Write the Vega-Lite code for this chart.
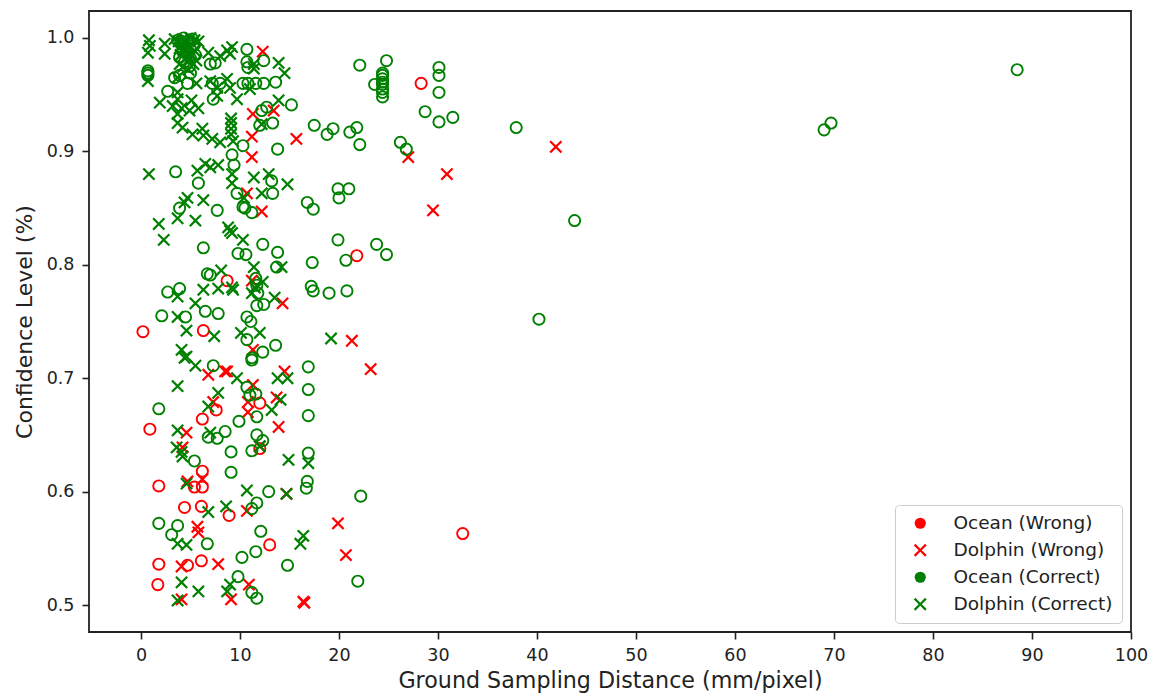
{"$schema":"https://vega.github.io/schema/vega-lite/v6.json","width":1042,"height":621,"autosize":{"type":"none"},"padding":{"left":89,"top":11,"right":22,"bottom":63},"background":"white","config":{"font":"DejaVu Sans","view":{"stroke":"#222","strokeWidth":1.8}},"data":{"values":[
{"gsd":28.3,"conf":0.96,"group":"Ocean (Wrong)"},{"gsd":0.2,"conf":0.741,"group":"Ocean (Wrong)"},{"gsd":0.9,"conf":0.655,"group":"Ocean (Wrong)"},{"gsd":1.8,"conf":0.605,"group":"Ocean (Wrong)"},{"gsd":1.8,"conf":0.536,"group":"Ocean (Wrong)"},{"gsd":1.7,"conf":0.518,"group":"Ocean (Wrong)"},{"gsd":6.2,"conf":0.664,"group":"Ocean (Wrong)"},{"gsd":7.6,"conf":0.672,"group":"Ocean (Wrong)"},{"gsd":6.3,"conf":0.742,"group":"Ocean (Wrong)"},{"gsd":8.7,"conf":0.786,"group":"Ocean (Wrong)"},{"gsd":12,"conf":0.678,"group":"Ocean (Wrong)"},{"gsd":12,"conf":0.638,"group":"Ocean (Wrong)"},{"gsd":6.2,"conf":0.618,"group":"Ocean (Wrong)"},{"gsd":6.2,"conf":0.604,"group":"Ocean (Wrong)"},{"gsd":5.4,"conf":0.604,"group":"Ocean (Wrong)"},{"gsd":4.4,"conf":0.586,"group":"Ocean (Wrong)"},{"gsd":6.1,"conf":0.587,"group":"Ocean (Wrong)"},{"gsd":8.9,"conf":0.579,"group":"Ocean (Wrong)"},{"gsd":13,"conf":0.553,"group":"Ocean (Wrong)"},{"gsd":6.1,"conf":0.539,"group":"Ocean (Wrong)"},{"gsd":4.7,"conf":0.535,"group":"Ocean (Wrong)"},{"gsd":21.8,"conf":0.808,"group":"Ocean (Wrong)"},{"gsd":32.5,"conf":0.563,"group":"Ocean (Wrong)"},
{"gsd":12.3,"conf":0.988,"group":"Dolphin (Wrong)"},{"gsd":11.3,"conf":0.933,"group":"Dolphin (Wrong)"},{"gsd":13.4,"conf":0.936,"group":"Dolphin (Wrong)"},{"gsd":11.2,"conf":0.913,"group":"Dolphin (Wrong)"},{"gsd":15.7,"conf":0.911,"group":"Dolphin (Wrong)"},{"gsd":11.2,"conf":0.895,"group":"Dolphin (Wrong)"},{"gsd":27,"conf":0.895,"group":"Dolphin (Wrong)"},{"gsd":41.9,"conf":0.904,"group":"Dolphin (Wrong)"},{"gsd":30.9,"conf":0.88,"group":"Dolphin (Wrong)"},{"gsd":29.5,"conf":0.848,"group":"Dolphin (Wrong)"},{"gsd":10.7,"conf":0.863,"group":"Dolphin (Wrong)"},{"gsd":12.2,"conf":0.847,"group":"Dolphin (Wrong)"},{"gsd":11.2,"conf":0.786,"group":"Dolphin (Wrong)"},{"gsd":14.3,"conf":0.766,"group":"Dolphin (Wrong)"},{"gsd":11.3,"conf":0.725,"group":"Dolphin (Wrong)"},{"gsd":21.3,"conf":0.733,"group":"Dolphin (Wrong)"},{"gsd":23.2,"conf":0.708,"group":"Dolphin (Wrong)"},{"gsd":6.8,"conf":0.703,"group":"Dolphin (Wrong)"},{"gsd":8.5,"conf":0.706,"group":"Dolphin (Wrong)"},{"gsd":8.7,"conf":0.706,"group":"Dolphin (Wrong)"},{"gsd":14.5,"conf":0.706,"group":"Dolphin (Wrong)"},{"gsd":11.3,"conf":0.694,"group":"Dolphin (Wrong)"},{"gsd":13.7,"conf":0.683,"group":"Dolphin (Wrong)"},{"gsd":10.8,"conf":0.679,"group":"Dolphin (Wrong)"},{"gsd":7.3,"conf":0.679,"group":"Dolphin (Wrong)"},{"gsd":10.8,"conf":0.67,"group":"Dolphin (Wrong)"},{"gsd":13.9,"conf":0.657,"group":"Dolphin (Wrong)"},{"gsd":4.6,"conf":0.652,"group":"Dolphin (Wrong)"},{"gsd":4.2,"conf":0.639,"group":"Dolphin (Wrong)"},{"gsd":12,"conf":0.64,"group":"Dolphin (Wrong)"},{"gsd":6.2,"conf":0.611,"group":"Dolphin (Wrong)"},{"gsd":4.7,"conf":0.609,"group":"Dolphin (Wrong)"},{"gsd":14.7,"conf":0.598,"group":"Dolphin (Wrong)"},{"gsd":10.7,"conf":0.583,"group":"Dolphin (Wrong)"},{"gsd":5.7,"conf":0.569,"group":"Dolphin (Wrong)"},{"gsd":5.8,"conf":0.564,"group":"Dolphin (Wrong)"},{"gsd":19.9,"conf":0.572,"group":"Dolphin (Wrong)"},{"gsd":20.7,"conf":0.544,"group":"Dolphin (Wrong)"},{"gsd":4.1,"conf":0.534,"group":"Dolphin (Wrong)"},{"gsd":7.8,"conf":0.536,"group":"Dolphin (Wrong)"},{"gsd":10.9,"conf":0.518,"group":"Dolphin (Wrong)"},{"gsd":4.1,"conf":0.505,"group":"Dolphin (Wrong)"},{"gsd":9.1,"conf":0.505,"group":"Dolphin (Wrong)"},{"gsd":16.4,"conf":0.503,"group":"Dolphin (Wrong)"},{"gsd":16.5,"conf":0.502,"group":"Dolphin (Wrong)"},
{"gsd":88.5,"conf":0.972,"group":"Ocean (Correct)"},{"gsd":69,"conf":0.919,"group":"Ocean (Correct)"},{"gsd":69.7,"conf":0.925,"group":"Ocean (Correct)"},{"gsd":43.8,"conf":0.839,"group":"Ocean (Correct)"},{"gsd":40.2,"conf":0.752,"group":"Ocean (Correct)"},{"gsd":37.9,"conf":0.921,"group":"Ocean (Correct)"},{"gsd":22.1,"conf":0.976,"group":"Ocean (Correct)"},{"gsd":24.8,"conf":0.98,"group":"Ocean (Correct)"},{"gsd":23.6,"conf":0.959,"group":"Ocean (Correct)"},{"gsd":24.4,"conf":0.969,"group":"Ocean (Correct)"},{"gsd":24.4,"conf":0.967,"group":"Ocean (Correct)"},{"gsd":24.4,"conf":0.964,"group":"Ocean (Correct)"},{"gsd":24.4,"conf":0.961,"group":"Ocean (Correct)"},{"gsd":24.4,"conf":0.959,"group":"Ocean (Correct)"},{"gsd":24.4,"conf":0.955,"group":"Ocean (Correct)"},{"gsd":24.4,"conf":0.952,"group":"Ocean (Correct)"},{"gsd":24.4,"conf":0.948,"group":"Ocean (Correct)"},{"gsd":30.1,"conf":0.974,"group":"Ocean (Correct)"},{"gsd":30.1,"conf":0.967,"group":"Ocean (Correct)"},{"gsd":30.1,"conf":0.952,"group":"Ocean (Correct)"},{"gsd":28.7,"conf":0.935,"group":"Ocean (Correct)"},{"gsd":31.5,"conf":0.93,"group":"Ocean (Correct)"},{"gsd":30.1,"conf":0.926,"group":"Ocean (Correct)"},{"gsd":26.2,"conf":0.908,"group":"Ocean (Correct)"},{"gsd":26.8,"conf":0.902,"group":"Ocean (Correct)"},{"gsd":17.5,"conf":0.923,"group":"Ocean (Correct)"},{"gsd":19.4,"conf":0.92,"group":"Ocean (Correct)"},{"gsd":18.8,"conf":0.915,"group":"Ocean (Correct)"},{"gsd":21.1,"conf":0.917,"group":"Ocean (Correct)"},{"gsd":21.8,"conf":0.921,"group":"Ocean (Correct)"},{"gsd":22.1,"conf":0.906,"group":"Ocean (Correct)"},{"gsd":13.8,"conf":0.902,"group":"Ocean (Correct)"},{"gsd":15.2,"conf":0.941,"group":"Ocean (Correct)"},{"gsd":19.9,"conf":0.867,"group":"Ocean (Correct)"},{"gsd":21,"conf":0.867,"group":"Ocean (Correct)"},{"gsd":20,"conf":0.859,"group":"Ocean (Correct)"},{"gsd":16.8,"conf":0.855,"group":"Ocean (Correct)"},{"gsd":17.4,"conf":0.849,"group":"Ocean (Correct)"},{"gsd":19.9,"conf":0.822,"group":"Ocean (Correct)"},{"gsd":23.8,"conf":0.818,"group":"Ocean (Correct)"},{"gsd":24.8,"conf":0.809,"group":"Ocean (Correct)"},{"gsd":20.7,"conf":0.804,"group":"Ocean (Correct)"},{"gsd":17.3,"conf":0.802,"group":"Ocean (Correct)"},{"gsd":13.8,"conf":0.811,"group":"Ocean (Correct)"},{"gsd":12.3,"conf":0.818,"group":"Ocean (Correct)"},{"gsd":17.2,"conf":0.781,"group":"Ocean (Correct)"},{"gsd":17.4,"conf":0.777,"group":"Ocean (Correct)"},{"gsd":19,"conf":0.775,"group":"Ocean (Correct)"},{"gsd":20.8,"conf":0.777,"group":"Ocean (Correct)"},{"gsd":22.2,"conf":0.596,"group":"Ocean (Correct)"},{"gsd":21.9,"conf":0.521,"group":"Ocean (Correct)"},{"gsd":16.9,"conf":0.71,"group":"Ocean (Correct)"},{"gsd":16.9,"conf":0.69,"group":"Ocean (Correct)"},{"gsd":16.9,"conf":0.667,"group":"Ocean (Correct)"},{"gsd":16.9,"conf":0.634,"group":"Ocean (Correct)"},{"gsd":16.8,"conf":0.609,"group":"Ocean (Correct)"},{"gsd":16.7,"conf":0.603,"group":"Ocean (Correct)"},{"gsd":13.6,"conf":0.729,"group":"Ocean (Correct)"},{"gsd":12.3,"conf":0.723,"group":"Ocean (Correct)"},{"gsd":14.8,"conf":0.535,"group":"Ocean (Correct)"},{"gsd":6.3,"conf":0.815,"group":"Ocean (Correct)"},{"gsd":9.8,"conf":0.81,"group":"Ocean (Correct)"},{"gsd":10.6,"conf":0.809,"group":"Ocean (Correct)"},{"gsd":13.7,"conf":0.798,"group":"Ocean (Correct)"},{"gsd":6.7,"conf":0.792,"group":"Ocean (Correct)"},{"gsd":7,"conf":0.791,"group":"Ocean (Correct)"},{"gsd":11.6,"conf":0.788,"group":"Ocean (Correct)"},{"gsd":11.7,"conf":0.782,"group":"Ocean (Correct)"},{"gsd":11.8,"conf":0.775,"group":"Ocean (Correct)"},{"gsd":11.7,"conf":0.764,"group":"Ocean (Correct)"},{"gsd":12.4,"conf":0.765,"group":"Ocean (Correct)"},{"gsd":2.7,"conf":0.776,"group":"Ocean (Correct)"},{"gsd":3.9,"conf":0.779,"group":"Ocean (Correct)"},{"gsd":2.1,"conf":0.755,"group":"Ocean (Correct)"},{"gsd":4.5,"conf":0.754,"group":"Ocean (Correct)"},{"gsd":6.5,"conf":0.759,"group":"Ocean (Correct)"},{"gsd":7.8,"conf":0.757,"group":"Ocean (Correct)"},{"gsd":10.7,"conf":0.754,"group":"Ocean (Correct)"},{"gsd":11.1,"conf":0.75,"group":"Ocean (Correct)"},{"gsd":10.7,"conf":0.734,"group":"Ocean (Correct)"},{"gsd":11.2,"conf":0.716,"group":"Ocean (Correct)"},{"gsd":11.2,"conf":0.718,"group":"Ocean (Correct)"},{"gsd":7.3,"conf":0.711,"group":"Ocean (Correct)"},{"gsd":10.7,"conf":0.692,"group":"Ocean (Correct)"},{"gsd":11,"conf":0.685,"group":"Ocean (Correct)"},{"gsd":11.6,"conf":0.686,"group":"Ocean (Correct)"},{"gsd":1.8,"conf":0.673,"group":"Ocean (Correct)"},{"gsd":9.9,"conf":0.662,"group":"Ocean (Correct)"},{"gsd":11.7,"conf":0.666,"group":"Ocean (Correct)"},{"gsd":8.5,"conf":0.653,"group":"Ocean (Correct)"},{"gsd":6.8,"conf":0.648,"group":"Ocean (Correct)"},{"gsd":7.7,"conf":0.647,"group":"Ocean (Correct)"},{"gsd":11.7,"conf":0.65,"group":"Ocean (Correct)"},{"gsd":12.3,"conf":0.645,"group":"Ocean (Correct)"},{"gsd":11.2,"conf":0.636,"group":"Ocean (Correct)"},{"gsd":9.1,"conf":0.635,"group":"Ocean (Correct)"},{"gsd":5.4,"conf":0.627,"group":"Ocean (Correct)"},{"gsd":9.1,"conf":0.617,"group":"Ocean (Correct)"},{"gsd":12.9,"conf":0.6,"group":"Ocean (Correct)"},{"gsd":11.7,"conf":0.59,"group":"Ocean (Correct)"},{"gsd":11.2,"conf":0.585,"group":"Ocean (Correct)"},{"gsd":1.8,"conf":0.572,"group":"Ocean (Correct)"},{"gsd":3.7,"conf":0.57,"group":"Ocean (Correct)"},{"gsd":3.1,"conf":0.562,"group":"Ocean (Correct)"},{"gsd":6.7,"conf":0.554,"group":"Ocean (Correct)"},{"gsd":12.1,"conf":0.565,"group":"Ocean (Correct)"},{"gsd":11.6,"conf":0.547,"group":"Ocean (Correct)"},{"gsd":10.2,"conf":0.542,"group":"Ocean (Correct)"},{"gsd":9.8,"conf":0.525,"group":"Ocean (Correct)"},{"gsd":11.2,"conf":0.511,"group":"Ocean (Correct)"},{"gsd":11.7,"conf":0.506,"group":"Ocean (Correct)"},{"gsd":10.7,"conf":0.99,"group":"Ocean (Correct)"},{"gsd":12.4,"conf":0.98,"group":"Ocean (Correct)"},{"gsd":7,"conf":0.977,"group":"Ocean (Correct)"},{"gsd":7.5,"conf":0.978,"group":"Ocean (Correct)"},{"gsd":10.7,"conf":0.979,"group":"Ocean (Correct)"},{"gsd":10.8,"conf":0.974,"group":"Ocean (Correct)"},{"gsd":0.7,"conf":0.971,"group":"Ocean (Correct)"},{"gsd":0.7,"conf":0.969,"group":"Ocean (Correct)"},{"gsd":0.7,"conf":0.967,"group":"Ocean (Correct)"},{"gsd":3.4,"conf":0.965,"group":"Ocean (Correct)"},{"gsd":3.9,"conf":0.967,"group":"Ocean (Correct)"},{"gsd":5,"conf":0.969,"group":"Ocean (Correct)"},{"gsd":12.4,"conf":0.96,"group":"Ocean (Correct)"},{"gsd":13.6,"conf":0.961,"group":"Ocean (Correct)"},{"gsd":10.3,"conf":0.96,"group":"Ocean (Correct)"},{"gsd":10.8,"conf":0.96,"group":"Ocean (Correct)"},{"gsd":11.6,"conf":0.96,"group":"Ocean (Correct)"},{"gsd":7.2,"conf":0.96,"group":"Ocean (Correct)"},{"gsd":8,"conf":0.96,"group":"Ocean (Correct)"},{"gsd":2.7,"conf":0.953,"group":"Ocean (Correct)"},{"gsd":7.3,"conf":0.946,"group":"Ocean (Correct)"},{"gsd":4.7,"conf":0.96,"group":"Ocean (Correct)"},{"gsd":12.7,"conf":0.939,"group":"Ocean (Correct)"},{"gsd":12.2,"conf":0.936,"group":"Ocean (Correct)"},{"gsd":13.3,"conf":0.925,"group":"Ocean (Correct)"},{"gsd":12,"conf":0.923,"group":"Ocean (Correct)"},{"gsd":10.3,"conf":0.905,"group":"Ocean (Correct)"},{"gsd":9.2,"conf":0.897,"group":"Ocean (Correct)"},{"gsd":9.4,"conf":0.888,"group":"Ocean (Correct)"},{"gsd":3.5,"conf":0.882,"group":"Ocean (Correct)"},{"gsd":5.8,"conf":0.872,"group":"Ocean (Correct)"},{"gsd":13.2,"conf":0.874,"group":"Ocean (Correct)"},{"gsd":13.3,"conf":0.863,"group":"Ocean (Correct)"},{"gsd":9.7,"conf":0.863,"group":"Ocean (Correct)"},{"gsd":10.3,"conf":0.851,"group":"Ocean (Correct)"},{"gsd":10.5,"conf":0.85,"group":"Ocean (Correct)"},{"gsd":11.2,"conf":0.846,"group":"Ocean (Correct)"},{"gsd":7.7,"conf":0.848,"group":"Ocean (Correct)"},{"gsd":3.9,"conf":0.85,"group":"Ocean (Correct)"},{"gsd":3.7,"conf":0.998,"group":"Ocean (Correct)"},{"gsd":4,"conf":0.995,"group":"Ocean (Correct)"},{"gsd":4.3,"conf":1,"group":"Ocean (Correct)"},{"gsd":4.5,"conf":0.992,"group":"Ocean (Correct)"},{"gsd":4.8,"conf":0.997,"group":"Ocean (Correct)"},{"gsd":5,"conf":0.99,"group":"Ocean (Correct)"},{"gsd":5.2,"conf":0.999,"group":"Ocean (Correct)"},{"gsd":5.4,"conf":0.994,"group":"Ocean (Correct)"},{"gsd":4.2,"conf":0.988,"group":"Ocean (Correct)"},{"gsd":4.7,"conf":0.986,"group":"Ocean (Correct)"},{"gsd":5,"conf":0.982,"group":"Ocean (Correct)"},{"gsd":5.5,"conf":0.985,"group":"Ocean (Correct)"},{"gsd":4.4,"conf":0.979,"group":"Ocean (Correct)"},{"gsd":4.9,"conf":0.975,"group":"Ocean (Correct)"},{"gsd":3.9,"conf":0.983,"group":"Ocean (Correct)"},
{"gsd":0.8,"conf":0.998,"group":"Dolphin (Correct)"},{"gsd":0.7,"conf":0.987,"group":"Dolphin (Correct)"},{"gsd":2.4,"conf":0.995,"group":"Dolphin (Correct)"},{"gsd":2.4,"conf":0.986,"group":"Dolphin (Correct)"},{"gsd":0.9,"conf":0.993,"group":"Dolphin (Correct)"},{"gsd":3.4,"conf":0.999,"group":"Dolphin (Correct)"},{"gsd":3.8,"conf":0.997,"group":"Dolphin (Correct)"},{"gsd":4.2,"conf":0.999,"group":"Dolphin (Correct)"},{"gsd":4.6,"conf":0.998,"group":"Dolphin (Correct)"},{"gsd":5,"conf":1,"group":"Dolphin (Correct)"},{"gsd":5.4,"conf":0.998,"group":"Dolphin (Correct)"},{"gsd":5.8,"conf":0.997,"group":"Dolphin (Correct)"},{"gsd":3.9,"conf":0.991,"group":"Dolphin (Correct)"},{"gsd":4.4,"conf":0.99,"group":"Dolphin (Correct)"},{"gsd":4.9,"conf":0.992,"group":"Dolphin (Correct)"},{"gsd":5.4,"conf":0.989,"group":"Dolphin (Correct)"},{"gsd":4,"conf":0.985,"group":"Dolphin (Correct)"},{"gsd":4.6,"conf":0.983,"group":"Dolphin (Correct)"},{"gsd":5.1,"conf":0.985,"group":"Dolphin (Correct)"},{"gsd":5.6,"conf":0.98,"group":"Dolphin (Correct)"},{"gsd":4.3,"conf":0.975,"group":"Dolphin (Correct)"},{"gsd":4.8,"conf":0.972,"group":"Dolphin (Correct)"},{"gsd":5.3,"conf":0.977,"group":"Dolphin (Correct)"},{"gsd":6.8,"conf":0.987,"group":"Dolphin (Correct)"},{"gsd":9.2,"conf":0.992,"group":"Dolphin (Correct)"},{"gsd":9,"conf":0.986,"group":"Dolphin (Correct)"},{"gsd":8,"conf":0.984,"group":"Dolphin (Correct)"},{"gsd":8.7,"conf":0.989,"group":"Dolphin (Correct)"},{"gsd":13.9,"conf":0.978,"group":"Dolphin (Correct)"},{"gsd":14.5,"conf":0.969,"group":"Dolphin (Correct)"},{"gsd":11.4,"conf":0.977,"group":"Dolphin (Correct)"},{"gsd":11.4,"conf":0.973,"group":"Dolphin (Correct)"},{"gsd":0.7,"conf":0.962,"group":"Dolphin (Correct)"},{"gsd":3.9,"conf":0.977,"group":"Dolphin (Correct)"},{"gsd":3.7,"conf":0.965,"group":"Dolphin (Correct)"},{"gsd":5.6,"conf":0.96,"group":"Dolphin (Correct)"},{"gsd":7,"conf":0.962,"group":"Dolphin (Correct)"},{"gsd":8.7,"conf":0.964,"group":"Dolphin (Correct)"},{"gsd":7.7,"conf":0.956,"group":"Dolphin (Correct)"},{"gsd":9,"conf":0.956,"group":"Dolphin (Correct)"},{"gsd":9.7,"conf":0.946,"group":"Dolphin (Correct)"},{"gsd":7.7,"conf":0.949,"group":"Dolphin (Correct)"},{"gsd":11,"conf":0.955,"group":"Dolphin (Correct)"},{"gsd":1.9,"conf":0.943,"group":"Dolphin (Correct)"},{"gsd":3.7,"conf":0.952,"group":"Dolphin (Correct)"},{"gsd":3.7,"conf":0.946,"group":"Dolphin (Correct)"},{"gsd":3.2,"conf":0.94,"group":"Dolphin (Correct)"},{"gsd":4.1,"conf":0.938,"group":"Dolphin (Correct)"},{"gsd":5.1,"conf":0.945,"group":"Dolphin (Correct)"},{"gsd":5.8,"conf":0.938,"group":"Dolphin (Correct)"},{"gsd":4.9,"conf":0.936,"group":"Dolphin (Correct)"},{"gsd":3.7,"conf":0.933,"group":"Dolphin (Correct)"},{"gsd":3.7,"conf":0.925,"group":"Dolphin (Correct)"},{"gsd":4.2,"conf":0.921,"group":"Dolphin (Correct)"},{"gsd":6.2,"conf":0.92,"group":"Dolphin (Correct)"},{"gsd":5.2,"conf":0.915,"group":"Dolphin (Correct)"},{"gsd":6.3,"conf":0.914,"group":"Dolphin (Correct)"},{"gsd":8,"conf":0.908,"group":"Dolphin (Correct)"},{"gsd":7.2,"conf":0.911,"group":"Dolphin (Correct)"},{"gsd":9.1,"conf":0.929,"group":"Dolphin (Correct)"},{"gsd":9.1,"conf":0.925,"group":"Dolphin (Correct)"},{"gsd":9.1,"conf":0.92,"group":"Dolphin (Correct)"},{"gsd":9.1,"conf":0.915,"group":"Dolphin (Correct)"},{"gsd":9.3,"conf":0.909,"group":"Dolphin (Correct)"},{"gsd":13.9,"conf":0.945,"group":"Dolphin (Correct)"},{"gsd":12.2,"conf":0.924,"group":"Dolphin (Correct)"},{"gsd":0.8,"conf":0.88,"group":"Dolphin (Correct)"},{"gsd":7.8,"conf":0.888,"group":"Dolphin (Correct)"},{"gsd":7,"conf":0.886,"group":"Dolphin (Correct)"},{"gsd":6.5,"conf":0.889,"group":"Dolphin (Correct)"},{"gsd":5.7,"conf":0.883,"group":"Dolphin (Correct)"},{"gsd":9.2,"conf":0.88,"group":"Dolphin (Correct)"},{"gsd":9.2,"conf":0.872,"group":"Dolphin (Correct)"},{"gsd":11.4,"conf":0.877,"group":"Dolphin (Correct)"},{"gsd":12.9,"conf":0.88,"group":"Dolphin (Correct)"},{"gsd":14.8,"conf":0.871,"group":"Dolphin (Correct)"},{"gsd":12.2,"conf":0.863,"group":"Dolphin (Correct)"},{"gsd":6.3,"conf":0.857,"group":"Dolphin (Correct)"},{"gsd":4.7,"conf":0.859,"group":"Dolphin (Correct)"},{"gsd":4.4,"conf":0.855,"group":"Dolphin (Correct)"},{"gsd":10.4,"conf":0.859,"group":"Dolphin (Correct)"},{"gsd":1.8,"conf":0.836,"group":"Dolphin (Correct)"},{"gsd":3.7,"conf":0.841,"group":"Dolphin (Correct)"},{"gsd":5.5,"conf":0.839,"group":"Dolphin (Correct)"},{"gsd":2.3,"conf":0.822,"group":"Dolphin (Correct)"},{"gsd":8.8,"conf":0.833,"group":"Dolphin (Correct)"},{"gsd":9,"conf":0.83,"group":"Dolphin (Correct)"},{"gsd":9.2,"conf":0.828,"group":"Dolphin (Correct)"},{"gsd":10.3,"conf":0.822,"group":"Dolphin (Correct)"},{"gsd":11.4,"conf":0.798,"group":"Dolphin (Correct)"},{"gsd":14.2,"conf":0.798,"group":"Dolphin (Correct)"},{"gsd":8.1,"conf":0.795,"group":"Dolphin (Correct)"},{"gsd":7.8,"conf":0.779,"group":"Dolphin (Correct)"},{"gsd":9.2,"conf":0.78,"group":"Dolphin (Correct)"},{"gsd":9.3,"conf":0.778,"group":"Dolphin (Correct)"},{"gsd":6.3,"conf":0.778,"group":"Dolphin (Correct)"},{"gsd":3.7,"conf":0.772,"group":"Dolphin (Correct)"},{"gsd":5.5,"conf":0.766,"group":"Dolphin (Correct)"},{"gsd":3.7,"conf":0.754,"group":"Dolphin (Correct)"},{"gsd":12.3,"conf":0.785,"group":"Dolphin (Correct)"},{"gsd":11.2,"conf":0.775,"group":"Dolphin (Correct)"},{"gsd":13.5,"conf":0.771,"group":"Dolphin (Correct)"},{"gsd":11.5,"conf":0.78,"group":"Dolphin (Correct)"},{"gsd":4.6,"conf":0.742,"group":"Dolphin (Correct)"},{"gsd":7.4,"conf":0.737,"group":"Dolphin (Correct)"},{"gsd":10.1,"conf":0.74,"group":"Dolphin (Correct)"},{"gsd":12,"conf":0.74,"group":"Dolphin (Correct)"},{"gsd":4.1,"conf":0.725,"group":"Dolphin (Correct)"},{"gsd":4.6,"conf":0.719,"group":"Dolphin (Correct)"},{"gsd":4.4,"conf":0.718,"group":"Dolphin (Correct)"},{"gsd":5.5,"conf":0.711,"group":"Dolphin (Correct)"},{"gsd":3.7,"conf":0.693,"group":"Dolphin (Correct)"},{"gsd":9.7,"conf":0.7,"group":"Dolphin (Correct)"},{"gsd":13.8,"conf":0.7,"group":"Dolphin (Correct)"},{"gsd":14.8,"conf":0.7,"group":"Dolphin (Correct)"},{"gsd":14.1,"conf":0.681,"group":"Dolphin (Correct)"},{"gsd":13.2,"conf":0.672,"group":"Dolphin (Correct)"},{"gsd":7.8,"conf":0.687,"group":"Dolphin (Correct)"},{"gsd":6.8,"conf":0.675,"group":"Dolphin (Correct)"},{"gsd":19.2,"conf":0.735,"group":"Dolphin (Correct)"},{"gsd":3.7,"conf":0.654,"group":"Dolphin (Correct)"},{"gsd":7,"conf":0.652,"group":"Dolphin (Correct)"},{"gsd":3.6,"conf":0.639,"group":"Dolphin (Correct)"},{"gsd":4.1,"conf":0.635,"group":"Dolphin (Correct)"},{"gsd":4.2,"conf":0.631,"group":"Dolphin (Correct)"},{"gsd":12,"conf":0.64,"group":"Dolphin (Correct)"},{"gsd":14.9,"conf":0.628,"group":"Dolphin (Correct)"},{"gsd":16.9,"conf":0.625,"group":"Dolphin (Correct)"},{"gsd":4.6,"conf":0.607,"group":"Dolphin (Correct)"},{"gsd":10.7,"conf":0.601,"group":"Dolphin (Correct)"},{"gsd":14.7,"conf":0.598,"group":"Dolphin (Correct)"},{"gsd":6.8,"conf":0.582,"group":"Dolphin (Correct)"},{"gsd":8.6,"conf":0.587,"group":"Dolphin (Correct)"},{"gsd":16.4,"conf":0.561,"group":"Dolphin (Correct)"},{"gsd":16.1,"conf":0.554,"group":"Dolphin (Correct)"},{"gsd":3.7,"conf":0.554,"group":"Dolphin (Correct)"},{"gsd":4.6,"conf":0.553,"group":"Dolphin (Correct)"},{"gsd":4.1,"conf":0.52,"group":"Dolphin (Correct)"},{"gsd":5.8,"conf":0.512,"group":"Dolphin (Correct)"},{"gsd":9,"conf":0.518,"group":"Dolphin (Correct)"},{"gsd":8.7,"conf":0.512,"group":"Dolphin (Correct)"},{"gsd":3.7,"conf":0.504,"group":"Dolphin (Correct)"}
]},
"encoding":{
"x":{"field":"gsd","type":"quantitative","scale":{"domain":[-5.25,100],"nice":false,"zero":false},"axis":{"values":[0,10,20,30,40,50,60,70,80,90,100],"grid":false,"title":"Ground Sampling Distance (mm/pixel)","titleFontSize":22.2,"titleFontWeight":"normal","titleColor":"#222","titlePadding":6,"labelFontSize":17.5,"labelColor":"#222","labelPadding":7,"labelFlush":false,"tickColor":"#222","tickSize":7,"tickWidth":1.6,"domain":false}},
"y":{"field":"conf","type":"quantitative","scale":{"domain":[0.4762,1.0238],"nice":false,"zero":false},"axis":{"values":[0.5,0.6,0.7,0.8,0.9,1.0],"format":".1f","grid":false,"title":"Confidence Level (%)","titleFontSize":22,"titleFontWeight":"normal","titleColor":"#222","titlePadding":10,"labelFontSize":17.5,"labelColor":"#222","labelPadding":8,"tickColor":"#222","tickSize":7,"tickWidth":1.6,"domain":false}},
"color":{"field":"group","type":"nominal","scale":{"domain":["Ocean (Wrong)","Dolphin (Wrong)","Ocean (Correct)","Dolphin (Correct)"],"range":["#ff0000","#ff0000","#008000","#008000"]},"legend":null},
"shape":{"field":"group","type":"nominal","legend":null,"scale":{"domain":["Ocean (Wrong)","Dolphin (Wrong)","Ocean (Correct)","Dolphin (Correct)"],"range":["circle","M-1.15,-0.87L-0.87,-1.15L0,-0.28L0.87,-1.15L1.15,-0.87L0.28,0L1.15,0.87L0.87,1.15L0,0.28L-0.87,1.15L-1.15,0.87L-0.28,0Z","circle","M-1.15,-0.87L-0.87,-1.15L0,-0.28L0.87,-1.15L1.15,-0.87L0.28,0L1.15,0.87L0.87,1.15L0,0.28L-0.87,1.15L-1.15,0.87L-0.28,0Z"]}}
},
"layer":[
{"transform":[{"filter":"datum.group === 'Ocean (Wrong)'"}],"mark":{"type":"point","filled":false,"strokeWidth":1.9,"opacity":1,"size":125,"clip":true}},
{"transform":[{"filter":"datum.group === 'Dolphin (Wrong)'"}],"mark":{"type":"point","filled":true,"strokeWidth":0,"opacity":1,"size":125,"clip":true}},
{"transform":[{"filter":"datum.group === 'Ocean (Correct)'"}],"mark":{"type":"point","filled":false,"strokeWidth":1.9,"opacity":1,"size":125,"clip":true}},
{"transform":[{"filter":"datum.group === 'Dolphin (Correct)'"}],"mark":{"type":"point","filled":true,"strokeWidth":0,"opacity":1,"size":125,"clip":true},
"encoding":{"color":{"field":"group","type":"nominal","legend":{"title":null,"orient":"bottom-right","offset":9,"padding":9,"strokeColor":"#ccc","fillColor":"white","cornerRadius":4,"labelFontSize":18.5,"labelColor":"#222","labelOffset":24,"rowPadding":8,"symbolSize":125,"symbolStrokeWidth":0,"symbolOffset":7,"symbolOpacity":1}},"shape":{"field":"group","type":"nominal"}}}
],
"resolve":{"legend":{"color":"independent","shape":"independent"}}
}
